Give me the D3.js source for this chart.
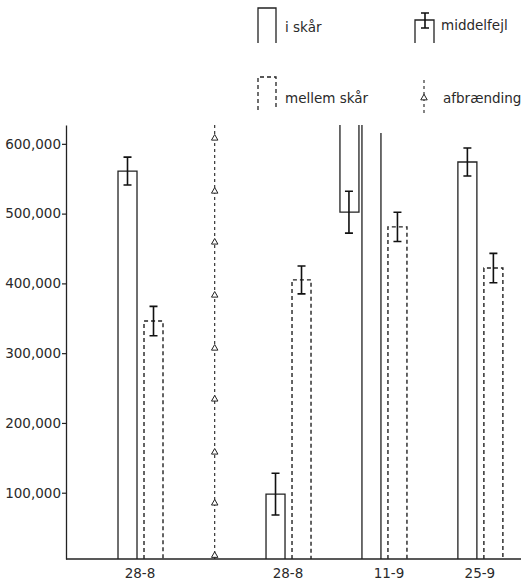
<!DOCTYPE html>
<html>
<head>
<meta charset="utf-8">
<script src="https://cdn.jsdelivr.net/npm/d3@7"></script>
<style>
  body { margin: 0; background: #fff; }
  svg { display: block; }
  text { font-family: 'DejaVu Sans', sans-serif; fill: #2a2a2a; }
</style>
</head>
<body>
<svg id="chart" width="528" height="581"></svg>
<script>
// sample dates and their day on the timeline (second 28-8 = day 0)
const dates = ['28-8', '28-8', '11-9', '25-9']
const dateDays = [-21.6, 0, 14, 28]

// i skår (solid) and mellem skår (dashed), with middelfejl
const iSkaar = [561000, 98000, 502000, 574000]
const iSkaarErr = [20000, 30000, 30000, 20000]
const mellemSkaar = [346000, 405000, 481000, 422000]
const mellemSkaarErr = [21000, 20000, 21000, 21000]

// afbrænding marker line
const burnDay = -10.7
const burnMarks = [10000, 85000, 158000, 234000, 307000, 383000, 459000, 532000, 608000]

const yTicks = [100000, 200000, 300000, 400000, 500000, 600000]

const svg = d3.select('#chart')

const x = d3.scaleLinear()
  .domain([-32.4, 34])
  .range([66, 521])

const y = d3.scaleLinear()
  .domain([5000, 627000])
  .range([559, 125])

const yBase = y(5000)
const yTop = y(627000)

// y axis
const yAxis = svg.append('g')
  .attr('transform', 'translate(66,0)')
  .call(d3.axisLeft(y).tickValues(yTicks).tickSize(4).tickSizeOuter(0).tickFormat(d3.format(',')))
yAxis.select('.domain').attr('stroke', '#222').attr('stroke-width', 1.3)
yAxis.selectAll('.tick line').attr('stroke', '#222').attr('stroke-width', 1.2)
yAxis.selectAll('.tick text')
  .attr('x', -5)
  .style('font-size', '13.5px')
  .style('font-family', 'DejaVu Sans, sans-serif')
  .attr('fill', '#2a2a2a')

// baseline
svg.append('line')
  .attr('x1', 66).attr('x2', 521)
  .attr('y1', yBase).attr('y2', yBase)
  .attr('stroke', '#222').attr('stroke-width', 1.5)

function barPath(x0, x1, y0) {
  return `M${x0},${yBase}V${y0}H${x1}V${yBase}`
}

function errorBar(g, cx, v, e) {
  const p = d3.path()
  p.moveTo(cx, y(v + e)); p.lineTo(cx, y(v - e))
  p.moveTo(cx - 4, y(v + e)); p.lineTo(cx + 4, y(v + e))
  p.moveTo(cx - 4, y(v - e)); p.lineTo(cx + 4, y(v - e))
  g.append('path').attr('d', p.toString())
    .attr('fill', 'none').attr('stroke', '#111').attr('stroke-width', 1.6)
}

const groups = svg.append('g')

dates.forEach((d, i) => {
  const cx = x(dateDays[i])
  const g = groups.append('g')

  // solid bar: i skår
  if (i === 2) {
    // printed off-scale: full-height outline plus a bar hanging from the top
    g.append('path')
      .attr('d', `M${cx - 22},${yBase}V${yTop}M${cx - 3},${yBase}V${yTop + 8}`)
      .attr('fill', 'none').attr('stroke', '#222').attr('stroke-width', 1.3)
    g.append('path')
      .attr('d', `M${cx - 44},${yTop}V${y(iSkaar[i])}H${cx - 25}V${yTop}`)
      .attr('fill', 'none').attr('stroke', '#222').attr('stroke-width', 1.3)
    errorBar(g, cx - 35, iSkaar[i], iSkaarErr[i])
  } else {
    g.append('path')
      .attr('d', barPath(cx - 22, cx - 3, y(iSkaar[i])))
      .attr('fill', 'none').attr('stroke', '#222').attr('stroke-width', 1.3)
    errorBar(g, cx - 12.5, iSkaar[i], iSkaarErr[i])
  }

  // dashed bar: mellem skår
  g.append('path')
    .attr('d', barPath(cx + 4, cx + 23, y(mellemSkaar[i])))
    .attr('fill', 'none').attr('stroke', '#222').attr('stroke-width', 1.4)
    .attr('stroke-dasharray', '4,3')
  errorBar(g, cx + 13.5, mellemSkaar[i], mellemSkaarErr[i])

  // date label
  g.append('text')
    .attr('x', i === 2 ? cx + 5 : cx)
    .attr('y', 578)
    .attr('text-anchor', 'middle')
    .style('font-size', '13.5px')
    .text(d)
})

// afbrænding
const bx = x(burnDay)
svg.append('line')
  .attr('x1', bx).attr('x2', bx)
  .attr('y1', yTop).attr('y2', yBase)
  .attr('stroke', '#222').attr('stroke-width', 1.1)
  .attr('stroke-dasharray', '3,3')

const tri = d3.symbol().type(d3.symbolTriangle).size(18)
svg.append('g').selectAll('path')
  .data(burnMarks)
  .enter().append('path')
  .attr('d', tri)
  .attr('transform', (d) => `translate(${bx},${y(d)})`)
  .attr('fill', '#fff').attr('stroke', '#222').attr('stroke-width', 1)

// legend
const legend = svg.append('g')
legend.append('path')
  .attr('d', 'M258,43V8H276V43')
  .attr('fill', 'none').attr('stroke', '#222').attr('stroke-width', 1.3)
legend.append('text').attr('x', 285).attr('y', 32).style('font-size', '13.5px').text('i skår')

legend.append('path')
  .attr('d', 'M258,110V77H276V110')
  .attr('fill', 'none').attr('stroke', '#222').attr('stroke-width', 1.3)
  .attr('stroke-dasharray', '4,3')
legend.append('text').attr('x', 285).attr('y', 103).style('font-size', '13.5px').text('mellem skår')

legend.append('path')
  .attr('d', 'M415,43V20H434V43')
  .attr('fill', 'none').attr('stroke', '#222').attr('stroke-width', 1.3)
const lp = d3.path()
lp.moveTo(425, 13); lp.lineTo(425, 28)
lp.moveTo(421, 13); lp.lineTo(429, 13)
lp.moveTo(421, 28); lp.lineTo(429, 28)
legend.append('path').attr('d', lp.toString())
  .attr('fill', 'none').attr('stroke', '#111').attr('stroke-width', 1.6)
legend.append('text').attr('x', 441).attr('y', 30).style('font-size', '13.5px').text('middelfejl')

legend.append('line')
  .attr('x1', 424).attr('x2', 424).attr('y1', 80).attr('y2', 113)
  .attr('stroke', '#222').attr('stroke-width', 1.1)
  .attr('stroke-dasharray', '3,3')
legend.append('path')
  .attr('d', tri)
  .attr('transform', 'translate(424,98)')
  .attr('fill', '#fff').attr('stroke', '#222').attr('stroke-width', 1)
legend.append('text').attr('x', 443).attr('y', 103).style('font-size', '13.5px').text('afbrænding')
</script>
</body>
</html>
